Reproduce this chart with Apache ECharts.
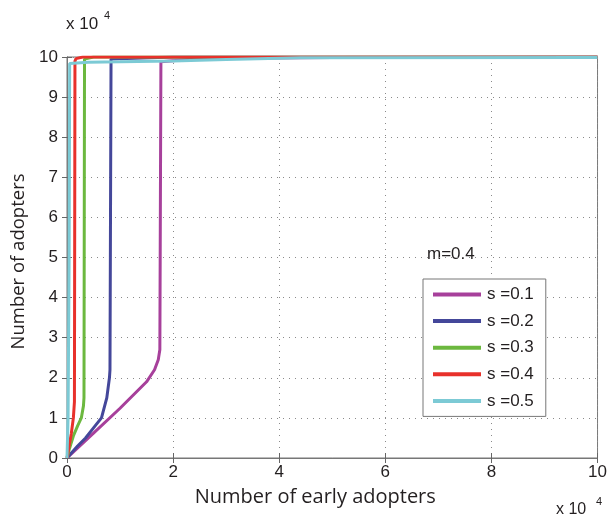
<!DOCTYPE html>
<html><head><meta charset="utf-8">
<script src="https://cdn.jsdelivr.net/npm/echarts@6/dist/echarts.min.js"></script>
<style>html,body{margin:0;padding:0;background:#fff}#c{width:610px;height:516px}</style>
</head><body><div id="c"></div>
<script>
// Values in units of 10^4
const seriesNames = ['s =0.1', 's =0.2', 's =0.3', 's =0.4', 's =0.5'];
const s01x = [0, 0.5, 1.0, 1.5, 1.65, 1.72, 1.75, 1.77, 2.5, 5, 10];
const s01y = [0, 0.62, 1.24, 1.9, 2.2, 2.45, 2.7, 9.88, 9.96, 9.99, 10];
const s02x = [0, 0.2, 0.35, 0.5, 0.65, 0.75, 0.8, 0.81, 0.83, 2, 10];
const s02y = [0, 0.3, 0.5, 0.75, 1.0, 1.5, 2.0, 2.2, 9.95, 10, 10];
const s03x = [0, 0.05, 0.12, 0.2, 0.27, 0.31, 0.32, 0.33, 0.5, 10];
const s03y = [0, 0.25, 0.55, 0.8, 1.0, 1.3, 1.5, 9.95, 10, 10];
const s04x = [0, 0.04, 0.08, 0.12, 0.14, 0.15, 0.17, 0.3, 10];
const s04y = [0, 0.3, 0.6, 1.0, 1.4, 9.9, 9.96, 10, 10];
const s05x = [0, 0.02, 0.04, 0.05, 0.4, 1, 2, 3, 4.4, 10];
const s05y = [0, 1, 5, 9.84, 9.87, 9.88, 9.9, 9.94, 9.98, 9.99];
const xTicks = [0, 2, 4, 6, 8, 10];
const yTicks = [0, 1, 2, 3, 4, 5, 6, 7, 8, 9, 10];
const annotation = 'm=0.4';
const xName = 'Number of early adopters';
const yName = 'Number of adopters';

const colors = ['#a7409b', '#44479a', '#6cb83f', '#e8312b', '#7ccad5'];
const xs = [s01x, s02x, s03x, s04x, s05x];
const ys = [s01y, s02y, s03y, s04y, s05y];
const font = '"Liberation Sans", Arial, sans-serif';
const tfont = '"Open Sans", "Liberation Sans", sans-serif';
const txt = '#231f20';

const chart = echarts.init(document.getElementById('c'), null, {renderer: 'canvas'});
const gridSplit = {show: true, lineStyle: {color: '#8a8a8a', type: [1, 5], width: 1}};
const tick = {show: true, inside: true, length: 5, lineStyle: {color: '#666'}};
chart.setOption({
  animation: false,
  backgroundColor: '#fff',
  grid: {left: 67, right: 10, top: 57, bottom: 58, show: true, borderColor: '#777', borderWidth: 1, backgroundColor: 'transparent'},
  legend: {
    data: seriesNames, orient: 'vertical', left: 423, top: 279,
    itemWidth: 48, itemHeight: 4, itemGap: 9.6,
    padding: [7, 12, 7, 10],
    borderColor: '#777', borderWidth: 1, backgroundColor: '#fff',
    textStyle: {fontFamily: font, fontSize: 17, color: txt, padding: [0, 0, 0, 1]},
    icon: 'rect'
  },
  xAxis: [{
    type: 'value', min: 0, max: 10, interval: 2,
    name: xName, nameLocation: 'middle', nameGap: 29,
    nameTextStyle: {fontFamily: tfont, fontSize: 20, color: txt, padding: [0, 34, 0, 0]},
    axisLine: {show: true, lineStyle: {color: '#777'}},
    axisTick: tick,
    axisLabel: {fontFamily: font, fontSize: 17, color: txt, margin: 6,
      formatter: v => xTicks.includes(v) ? String(v) : ''},
    splitLine: gridSplit
  }, {
    type: 'value', min: 0, max: 10, interval: 2, position: 'top',
    axisLine: {show: true, lineStyle: {color: '#777'}}, axisTick: tick,
    axisLabel: {show: false}, splitLine: {show: false}
  }],
  yAxis: [{
    type: 'value', min: 0, max: 10, interval: 1,
    name: yName, nameLocation: 'middle', nameGap: 37,
    nameTextStyle: {fontFamily: tfont, fontSize: 18.5, color: txt, padding: [0, 8, 0, 0]},
    axisLine: {show: true, lineStyle: {color: '#777'}},
    axisTick: tick,
    axisLabel: {fontFamily: font, fontSize: 17, color: txt, margin: 9,
      formatter: v => yTicks.includes(v) ? String(v) : ''},
    splitLine: gridSplit
  }, {
    type: 'value', min: 0, max: 10, interval: 1, position: 'right',
    axisLine: {show: true, lineStyle: {color: '#777'}}, axisTick: tick,
    axisLabel: {show: false}, splitLine: {show: false}
  }],
  graphic: [
    {type: 'text', left: 66, top: 16, style: {text: 'x 10', fontFamily: font, fontSize: 17, fill: txt}},
    {type: 'text', left: 104, top: 10, style: {text: '4', fontFamily: font, fontSize: 11, fill: txt}},
    {type: 'text', left: 556, top: 502, style: {text: 'x 10', fontFamily: font, fontSize: 16, fill: txt}},
    {type: 'text', left: 596, top: 496, style: {text: '4', fontFamily: font, fontSize: 11, fill: txt}},
    {type: 'text', left: 427, top: 246, style: {text: annotation, fontFamily: font, fontSize: 17, fill: txt}}
  ],
  series: seriesNames.map((n, i) => ({
    name: n, type: 'line', showSymbol: false, symbol: 'none',
    data: xs[i].map((x, j) => [x, ys[i][j]]),
    lineStyle: {color: colors[i], width: 3},
    itemStyle: {color: colors[i]},
    z: 2 + i
  }))
});
</script></body></html>
